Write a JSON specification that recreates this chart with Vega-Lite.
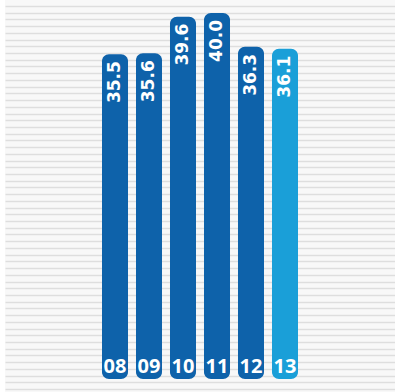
{
  "$schema": "https://vega.github.io/schema/vega-lite/v6.json",
  "width": 395,
  "height": 392,
  "autosize": {"type": "fit", "contains": "padding"},
  "padding": {"left": 5, "top": 0, "right": 0, "bottom": 0},
  "background": "#ffffff",
  "config": {"view": {"stroke": null, "fill": "#f8f8f8"}},
  "data": {"values": [
    {"year": "08", "value": 35.5, "label": "35.5", "current": "no"},
    {"year": "09", "value": 35.6, "label": "35.6", "current": "no"},
    {"year": "10", "value": 39.6, "label": "39.6", "current": "no"},
    {"year": "11", "value": 40.0, "label": "40.0", "current": "no"},
    {"year": "12", "value": 36.3, "label": "36.3", "current": "no"},
    {"year": "13", "value": 36.1, "label": "36.1", "current": "yes"}
  ]},
  "layer": [
    {
      "mark": {"type": "rule", "opacity": 0},
      "encoding": {
        "y": {
          "datum": 0,
          "type": "quantitative",
          "scale": {"domain": [-0.44, 57.89], "nice": false, "zero": false},
          "axis": {
            "grid": true, "gridColor": "#dedede", "gridWidth": 1.6, "gridOpacity": 1,
            "tickCount": 58, "labels": false, "ticks": false, "domain": false, "title": null
          }
        }
      }
    },
    {
      "layer": [
        {
          "mark": {"type": "bar", "cornerRadius": 7},
          "encoding": {
            "x": {"field": "year", "type": "nominal",
              "scale": {"domain": ["a1", "a2", "08", "09", "10", "11", "12", "13", "b1", "b2"],
                "paddingInner": 0.235, "paddingOuter": 0.853},
              "axis": null},
            "y": {"field": "value", "type": "quantitative",
              "scale": {"domain": [-1.42, 41.42], "nice": false, "zero": false},
              "axis": null},
            "y2": {"datum": 0},
            "color": {"field": "current", "type": "nominal",
              "scale": {"domain": ["no", "yes"], "range": ["#0e62aa", "#1a9fd8"]},
              "legend": null}
          }
        },
        {
          "mark": {"type": "text", "angle": 270, "align": "right", "baseline": "middle",
            "yOffset": 7, "color": "#ffffff", "font": "DejaVu Sans", "fontWeight": "bold", "fontSize": 17},
          "encoding": {
            "x": {"field": "year", "type": "nominal"},
            "y": {"field": "value", "type": "quantitative"},
            "text": {"field": "label"}
          }
        },
        {
          "mark": {"type": "text", "align": "center", "baseline": "alphabetic",
            "dy": -6, "color": "#ffffff", "font": "Open Sans", "fontWeight": "bold", "fontSize": 20},
          "encoding": {
            "x": {"field": "year", "type": "nominal"},
            "y": {"datum": 0},
            "text": {"field": "year"}
          }
        }
      ]
    }
  ],
  "resolve": {"scale": {"y": "independent"}, "axis": {"y": "independent"}}
}
